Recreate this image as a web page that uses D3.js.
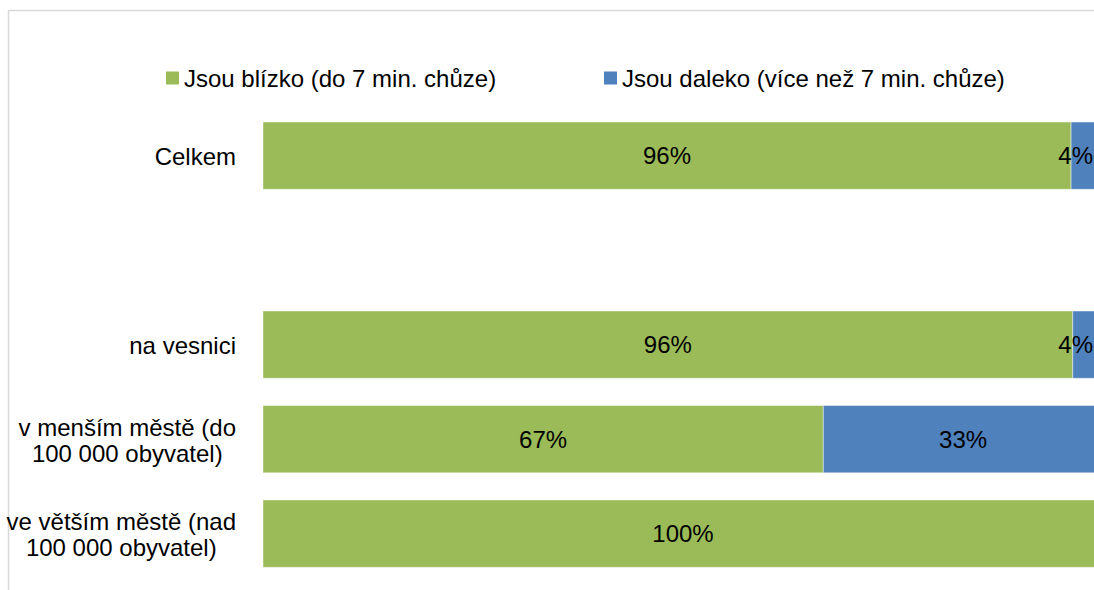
<!DOCTYPE html>
<html>
<head>
<meta charset="utf-8">
<script src="https://cdn.jsdelivr.net/npm/d3@7"></script>
<style>
  body { margin: 0; background: #fff; }
  svg { display: block; font-family: "Liberation Sans", Arial, sans-serif; }
</style>
</head>
<body>
<div id="chart"></div>
<script>
// categories (top to bottom), second row is an empty spacer category
var categories = [
    ["Celkem"],
    [""],
    ["na vesnici"],
    ["v menším městě (do", "100 000 obyvatel)"],
    ["ve větším městě (nad", "100 000 obyvatel)"]
];
var seriesNames = ["Jsou blízko (do 7 min. chůze)", "Jsou daleko (více než 7 min. chůze)"];
var blizko = [96.2, null, 96.4, 66.7, 100];
var daleko = [3.8, null, 3.6, 33.3, 0];
var colors = ["#9bbb59", "#4f81bd"];

function init() {
    var w = 1094;
    var h = 590;
    var fontSize = 24;

    var svg = d3.select("#chart")
        .append("svg")
        .attr("width", w)
        .attr("height", h);

    // chart frame (only top and left edges visible)
    svg.append("path")
        .attr("d", "M8.5," + h + "V10.5H" + w)
        .attr("fill", "none")
        .attr("stroke", "#d9d9d9")
        .attr("stroke-width", 1.5);

    var ids = categories.map(function(d, i) { return i; });

    var y = d3.scaleBand()
        .domain(ids)
        .range([122, 567.3])
        .paddingInner(0.288)
        .paddingOuter(0);

    var x = d3.scaleLinear()
        .domain([0, 100])
        .range([263, 1103]);

    // stack data
    var rows = ids.map(function(i) {
        return { i: i, blizko: blizko[i], daleko: daleko[i] };
    }).filter(function(d) { return d.blizko != null; });

    var stack = d3.stack().keys(["blizko", "daleko"]);
    var stacked = stack(rows);

    var groups = svg.selectAll("g.series")
        .data(stacked)
        .enter()
        .append("g")
        .attr("class", "series")
        .attr("fill", function(d, k) { return colors[k]; });

    groups.selectAll("rect")
        .data(function(d) { return d; })
        .enter()
        .append("rect")
        .attr("x", function(d) { return x(d[0]); })
        .attr("y", function(d) { return y(d.data.i); })
        .attr("width", function(d) { return x(d[1]) - x(d[0]); })
        .attr("height", y.bandwidth())
        .attr("stroke", "#ffffff")
        .attr("stroke-opacity", 0.45)
        .attr("stroke-width", 1);

    // value labels, kept inside the visible area
    var labelRight = 1093;
    groups.selectAll("text")
        .data(function(d) { return d; })
        .enter()
        .filter(function(d) { return d[1] - d[0] > 0; })
        .append("text")
        .text(function(d) { return Math.round(d[1] - d[0]) + "%"; })
        .attr("font-size", fontSize)
        .attr("fill", "#000")
        .attr("text-anchor", "middle")
        .attr("dominant-baseline", "central")
        .attr("y", function(d) { return y(d.data.i) + y.bandwidth() / 2; })
        .attr("x", function(d) {
            var cx = (x(d[0]) + x(d[1])) / 2;
            var half = this.getComputedTextLength() / 2;
            return Math.min(cx, labelRight - half);
        });

    // category labels: block right-aligned, lines centred inside the block
    var catRight = 236;
    var lineH = 26;
    categories.forEach(function(lines, i) {
        var g = svg.append("g");
        var texts = lines.map(function(line, j) {
            return g.append("text")
                .text(line)
                .attr("font-size", fontSize)
                .attr("fill", "#000")
                .attr("text-anchor", "middle")
                .attr("dominant-baseline", "central")
                .attr("y", y(i) + y.bandwidth() / 2 + (j - (lines.length - 1) / 2) * lineH + 1);
        });
        var maxW = d3.max(texts, function(t) { return t.node().getComputedTextLength(); });
        texts.forEach(function(t) { t.attr("x", catRight - maxW / 2); });
    });

    // legend
    var legendX = [166, 604];
    var legend = svg.selectAll("g.legend")
        .data(seriesNames)
        .enter()
        .append("g")
        .attr("class", "legend")
        .attr("transform", function(d, k) { return "translate(" + legendX[k] + ",78)"; });

    legend.append("rect")
        .attr("x", 0)
        .attr("y", -6.5)
        .attr("width", 13)
        .attr("height", 13)
        .attr("fill", function(d, k) { return colors[k]; });

    legend.append("text")
        .text(function(d) { return d; })
        .attr("x", 18)
        .attr("y", 0)
        .attr("font-size", fontSize)
        .attr("fill", "#000")
        .attr("dominant-baseline", "central");
}
window.onload = init;
</script>
</body>
</html>
